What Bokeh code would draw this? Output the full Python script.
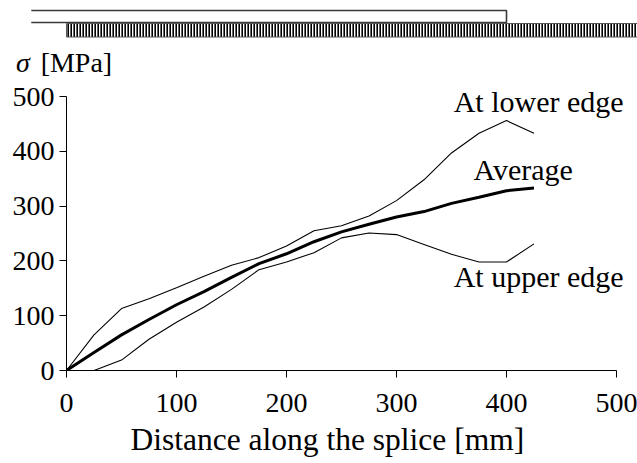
from bokeh.plotting import figure
from bokeh.models import Range1d, Label, FixedTicker, Title
from bokeh.core.properties import value
from bokeh.embed import file_html
from bokeh.resources import INLINE

# Stress along the splice length (mm) at the two plate edges and on average (MPa)
distance = [0, 25, 50, 75, 100, 125, 150, 175, 200, 225, 250, 275, 300, 325, 350, 375, 400, 425]
stress_lower_edge = [0, 65, 113, 131, 151, 172, 192, 206, 227, 255, 264, 282, 310, 348, 397, 433, 456, 433]
stress_upper_edge = [0, 0, 19, 57, 88, 116, 148, 184, 198, 215, 242, 251, 248, 230, 212, 198, 198, 231]
stress_average = [0, 33, 65, 93, 120, 144, 170, 195, 213, 235, 253, 267, 280, 290, 305, 316, 328, 333]

x_ticks = [0, 100, 200, 300, 400, 500]
y_ticks = [0, 100, 200, 300, 400, 500]

# Plate extents along the splice (mm)
cover_plate = (-32, 400)
base_plate = (0, 530)

FONT = "Liberation Serif"
SIZE = "30px"
TICK_SIZE = "28px"

# --- sketch of the spliced plates and the stress unit, drawn in pixel rows ---
sketch = figure(width=637, height=80, x_range=Range1d(-60, 519.1), y_range=Range1d(80, 0),
                toolbar_location=None, output_backend="svg", min_border=0,
                x_axis_location=None, y_axis_location=None)
sketch.grid.visible = False
sketch.outline_line_color = None
sketch.line([cover_plate[0], cover_plate[1], cover_plate[1], cover_plate[0]], [10, 10, 22, 22],
            line_color="#3a3a3a", line_width=1.6)
sketch.quad(left=[base_plate[0]], right=[base_plate[1]], top=[23], bottom=[36.5],
            fill_color="white", line_color="#555555", line_width=1,
            hatch_pattern="vertical_line", hatch_scale=3, hatch_weight=2.2, hatch_color="black")
sketch.text(x=[-46], y=[62], text=["σ"], text_font=value(FONT), text_font_size=TICK_SIZE,
            text_font_style="italic", text_baseline="alphabetic", text_color="black")
sketch.text(x=[-23.5], y=[62], text=["[MPa]"], text_font=value(FONT), text_font_size=TICK_SIZE,
            text_baseline="alphabetic", text_color="black")

# --- stress plot (range runs a little past 500 so the top label has room) ---
p = figure(width=637, height=383, x_range=Range1d(0, 519.1), y_range=Range1d(0, 529.2),
           toolbar_location=None, output_backend="svg",
           min_border_left=66, min_border_right=0, min_border_top=0, min_border_bottom=93)
p.grid.visible = False
p.outline_line_color = None

p.line(distance, stress_lower_edge, line_color="black", line_width=1.1)
p.line(distance, stress_upper_edge, line_color="black", line_width=1.1)
p.line(distance, stress_average, line_color="black", line_width=3)

for ax in (p.xaxis[0], p.yaxis[0]):
    ax.major_label_text_font = FONT
    ax.major_label_text_font_size = TICK_SIZE
    ax.major_label_text_color = "black"
    ax.axis_line_color = "black"
    ax.major_tick_line_color = "black"
    ax.major_tick_in = 0
    ax.major_tick_out = 7
    ax.minor_tick_line_color = None

p.xaxis.bounds = (0, 500)
p.yaxis.bounds = (0, 500)
p.xaxis.ticker = FixedTicker(ticks=x_ticks)
p.yaxis.ticker = FixedTicker(ticks=y_ticks)
p.xaxis.major_label_standoff = 16
p.yaxis.major_label_standoff = 5

# x-axis caption as a left-aligned title under the axis
p.add_layout(Title(text="Distance along the splice [mm]", text_font=FONT, text_font_size="31.5px",
                   text_font_style="normal", text_color="black", align="left", offset=64,
                   standoff=11), "below")

label_style = dict(text_font=FONT, text_font_size=SIZE, text_color="black", text_baseline="alphabetic")
p.add_layout(Label(x=352, y=490, text="At lower edge", **label_style))
p.add_layout(Label(x=370, y=366, text="Average", **label_style))
p.add_layout(Label(x=352, y=171, text="At upper edge", **label_style))

open("out.html", "w").write(file_html([sketch, p], INLINE))
